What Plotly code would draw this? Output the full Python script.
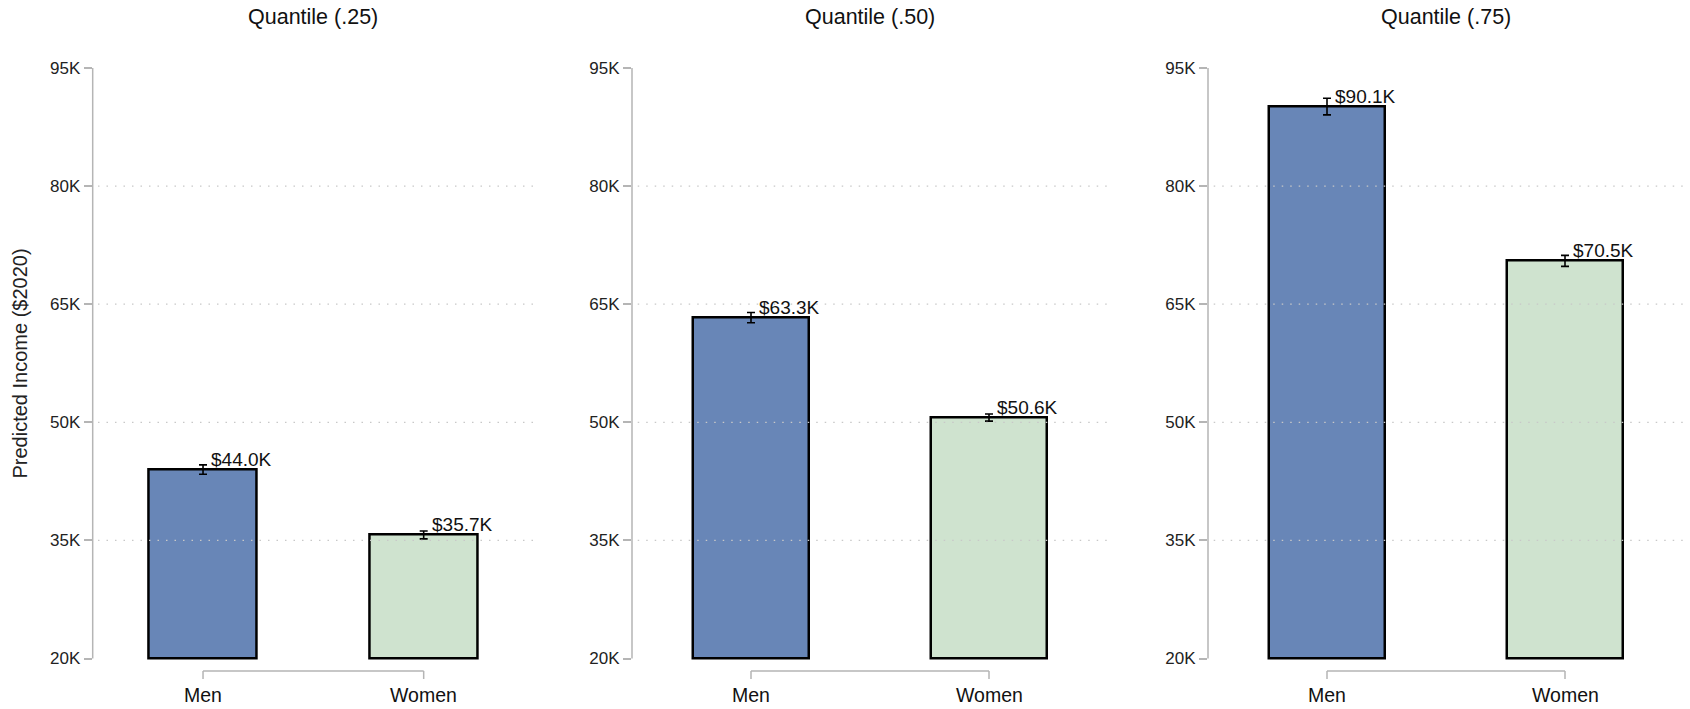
import plotly.graph_objects as go

# Predicted income by sex at three quantiles (thousands of 2020 dollars)
panel_titles = ["Quantile (.25)", "Quantile (.50)", "Quantile (.75)"]
categories = ["Men", "Women"]
men_income = [44.0, 63.3, 90.1]
women_income = [35.7, 50.6, 70.5]
men_ci = [0.6, 0.65, 1.05]
women_ci = [0.5, 0.45, 0.7]
y_ticks = [20, 35, 50, 65, 80, 95]
y_ticktext = ["20K", "35K", "50K", "65K", "80K", "95K"]

Y_MIN, Y_MAX = 20, 95
W, H = 1690, 709
FONT = "Liberation Sans, Arial, sans-serif"
BLUE = "#6886b7"
GREEN = "#cfe3cf"
AXIS_GREY = "#b5b5b5"
GRID_GREY = "#c8c8c8"

x_domains = [(92.7, 534.0), (632.0, 1108.0), (1208.0, 1684.0)]
y_domain = [1 - 660.5 / H, 1 - 67.6 / H]

fig = go.Figure()
annotations = []
shapes = []

for i, title in enumerate(panel_titles):
    n = "" if i == 0 else str(i + 1)
    xa, ya = "x" + n, "y" + n
    values = [men_income[i], women_income[i]]
    errors = [men_ci[i], women_ci[i]]

    fig.add_trace(go.Bar(
        x=[0, 1],
        y=[v - Y_MIN for v in values],
        base=Y_MIN,
        width=0.49,
        marker=dict(color=[BLUE, GREEN], line=dict(color="black", width=2.5)),
        error_y=dict(type="data", array=errors, visible=True,
                     color="black", thickness=1.6, width=4),
        xaxis=xa, yaxis=ya, showlegend=False, hoverinfo="skip",
    ))

    d0, d1 = x_domains[i]
    fig.layout["xaxis" + n] = dict(
        domain=[d0 / W, d1 / W], range=[-0.5, 1.5], automargin=False,
        showgrid=False, zeroline=False, showline=False,
        showticklabels=False, ticks="", anchor=ya,
    )
    fig.layout["yaxis" + n] = dict(
        domain=y_domain, range=[Y_MIN - 0.25, Y_MAX + 0.05], automargin=False,
        tickvals=y_ticks, ticktext=y_ticktext,
        ticks="outside", ticklen=8, tickwidth=1.5, tickcolor=AXIS_GREY,
        tickfont=dict(family=FONT, size=17, color="#222"),
        showgrid=False, zeroline=False, showline=False, anchor=xa,
    )

    # vertical axis line from the lowest to the highest tick
    shapes.append(dict(type="line", xref=xa + " domain", yref=ya,
                       x0=0, x1=0, y0=Y_MIN, y1=Y_MAX,
                       line=dict(color=AXIS_GREY, width=1.5)))
    # dotted reference lines at interior ticks
    for t in y_ticks[1:-1]:
        shapes.append(dict(type="line", xref=xa + " domain", yref=ya,
                           x0=0.012, x1=1, y0=t, y1=t,
                           line=dict(color=GRID_GREY, width=1.2, dash="1.5px,7px")))
    # category bracket below the bars
    yb, yt = 1 - 671 / H, 1 - 679 / H
    shapes.append(dict(type="line", xref=xa, yref="paper", x0=0, x1=1, y0=yb, y1=yb,
                       line=dict(color=AXIS_GREY, width=1.5)))
    for c in (0, 1):
        shapes.append(dict(type="line", xref=xa, yref="paper", x0=c, x1=c, y0=yb, y1=yt,
                           line=dict(color=AXIS_GREY, width=1.5)))
        annotations.append(dict(x=c, y=1 - 695 / H, xref=xa, yref="paper",
                                text=categories[c], showarrow=False,
                                xanchor="center", yanchor="middle",
                                font=dict(family=FONT, size=19.5, color="#111")))

    # value labels
    for c, v in enumerate(values):
        annotations.append(dict(x=c, y=v, xref=xa, yref=ya,
                                text=f"${v:.1f}K", showarrow=False,
                                xanchor="left", yanchor="bottom",
                                xshift=6, yshift=-2,
                                font=dict(family=FONT, size=19, color="#111")))

    # panel title
    annotations.append(dict(x=(d0 + d1) / 2 / W, y=1 - 17 / H, xref="paper", yref="paper",
                            text=title, showarrow=False,
                            xanchor="center", yanchor="middle",
                            font=dict(family=FONT, size=21.5, color="#111")))

annotations.append(dict(x=20.5 / W, y=(y_domain[0] + y_domain[1]) / 2,
                        xref="paper", yref="paper",
                        text="Predicted Income ($2020)", textangle=-90,
                        showarrow=False, xanchor="center", yanchor="middle",
                        font=dict(family=FONT, size=20, color="#222")))

fig.update_layout(
    width=W, height=H,
    margin=dict(l=0, r=0, t=0, b=0, pad=0),
    paper_bgcolor="white", plot_bgcolor="white",
    annotations=annotations, shapes=shapes,
    bargap=0,
)

fig.write_html("out.html", config={"displayModeBar": False})
